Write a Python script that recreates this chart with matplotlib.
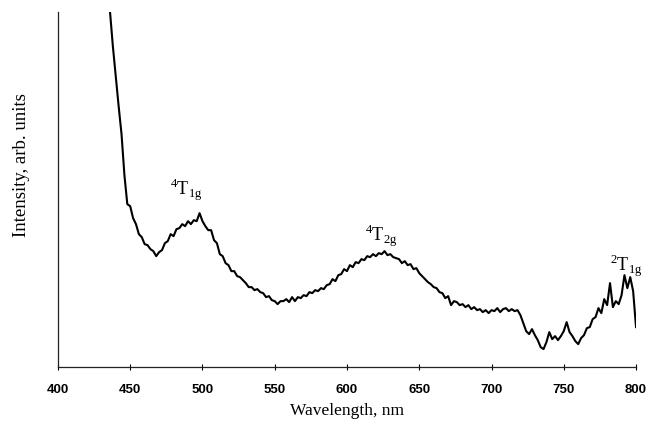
import numpy as np
import matplotlib
matplotlib.use("Agg")
import matplotlib.pyplot as plt

# absorption spectrum, intensity in arbitrary units, sampled every 2 nm
wavelength = np.arange(436, 801, 2)
intensity = [
    356, 321, 291, 261, 233, 192, 163, 161, 149, 143,   # 436
    133, 130, 123, 122, 118, 116, 111, 115, 117, 124,   # 456
    126, 133, 131, 138, 139, 143, 141, 146, 143, 147,   # 476
    146, 154, 146, 141, 137, 137, 127, 124, 113, 111,   # 496
    104, 102, 96, 96, 91, 90, 87, 84, 80, 80,           # 516
    77, 78, 75, 74, 70, 71, 67, 66, 63, 66,             # 536
    66, 68, 65, 70, 66, 70, 69, 72, 71, 75,             # 556
    74, 77, 76, 79, 78, 82, 83, 88, 86, 92,             # 576
    93, 98, 96, 102, 100, 105, 104, 108, 107, 111,      # 596
    110, 113, 111, 114, 113, 116, 112, 113, 110, 109,   # 616
    108, 104, 106, 102, 103, 98, 99, 94, 91, 88,        # 636
    85, 83, 80, 79, 75, 74, 69, 71, 62, 66,             # 656
    65, 62, 63, 60, 62, 58, 60, 57, 58, 55,             # 676
    57, 54, 57, 56, 59, 55, 58, 59, 56, 58,             # 696
    56, 57, 52, 44, 36, 33, 38, 32, 27, 20,             # 716
    18, 25, 35, 28, 31, 27, 31, 36, 45, 35,             # 736
    31, 26, 23, 29, 32, 39, 40, 48, 50, 59,             # 756
    54, 68, 62, 84, 60, 66, 63, 72, 92, 79,             # 776
    90, 76, 40,                                         # 796
]

x_ticks = [400, 450, 500, 550, 600, 650, 700, 750, 800]

# band labels: (text, wavelength, intensity)
bands = [
    (r"$^{\mathregular{4}}\mathregular{T}_{\mathregular{1g}}$", 489, 177),
    (r"$^{\mathregular{4}}\mathregular{T}_{\mathregular{2g}}$", 624, 131),
    (r"$^{\mathregular{2}}\mathregular{T}_{\mathregular{1g}}$", 793, 101),
]

serif = "Liberation Serif"

fig = plt.figure(figsize=(6.51, 4.21), dpi=100)
ax = fig.add_axes([0.089, 0.128, 0.888, 0.843])

ax.plot(wavelength, intensity, color="black", linewidth=1.5)

ax.set_xlim(400, 800)
ax.set_ylim(0, 355)
ax.set_xticks(x_ticks)
ax.set_xticklabels([str(t) for t in x_ticks], fontweight="bold",
                   fontsize=9.5, family="Liberation Sans")
ax.set_yticks([])
ax.tick_params(axis="x", direction="inout", length=4, width=0.8, pad=10)

for side in ["top", "right"]:
    ax.spines[side].set_visible(False)
for side in ["left", "bottom"]:
    ax.spines[side].set_linewidth(0.9)
    ax.spines[side].set_color("#222222")

ax.set_xlabel("Wavelength, nm", family=serif, fontsize=12.5, labelpad=5)
ax.set_ylabel("Intensity, arb. units", family=serif, fontsize=13.5)
ax.yaxis.set_label_coords(-0.048, 0.569)

for label, wl, h in bands:
    ax.text(wl, h, label, family=serif, fontsize=13, ha="center", va="center")

fig.savefig("out.png", dpi=100)
